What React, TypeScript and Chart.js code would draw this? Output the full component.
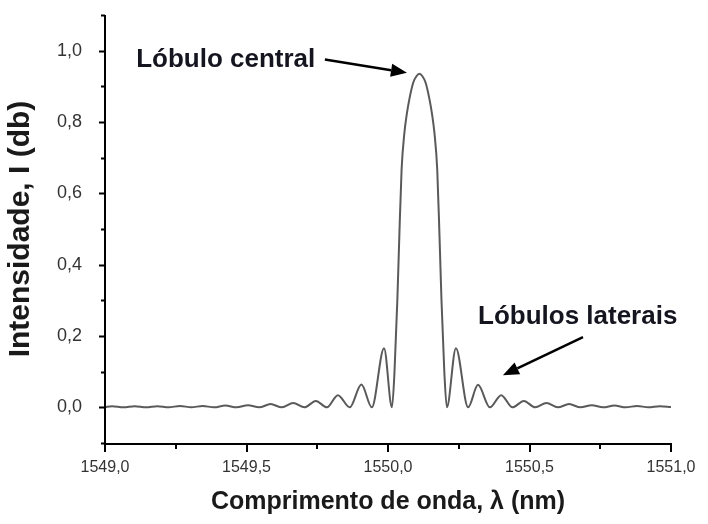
import React, { useEffect, useRef } from "react";
import { Chart, registerables } from "chart.js";

Chart.register(...registerables);

// ---- data ----
const wavelength = [
  1549.0, 1549.025, 1549.065, 1549.105, 1549.145, 1549.185, 1549.225, 1549.265, 1549.305,
  1549.345, 1549.385, 1549.425, 1549.465, 1549.505, 1549.545, 1549.585, 1549.625, 1549.665,
  1549.705, 1549.745, 1549.784, 1549.823, 1549.865, 1549.906, 1549.943, 1549.986, 1550.014,
  1550.023, 1550.033, 1550.04, 1550.048, 1550.058, 1550.066, 1550.075, 1550.089, 1550.101,
  1550.111,
  1550.121, 1550.133, 1550.147, 1550.156, 1550.164, 1550.174, 1550.182, 1550.189, 1550.199,
  1550.208,
  1550.24, 1550.283, 1550.318, 1550.36, 1550.4, 1550.44, 1550.48, 1550.52, 1550.56, 1550.6,
  1550.64, 1550.68, 1550.72, 1550.76, 1550.8, 1550.84, 1550.88, 1550.92, 1550.96, 1551.0,
];
const intensity = [
  0.001, 0.003, 0.0, 0.003, 0.0, 0.003, 0.0, 0.004, 0.0,
  0.004, 0.0, 0.005, 0.0, 0.006, 0.0, 0.009, 0.0, 0.012,
  0.0, 0.018, 0.0, 0.034, 0.0, 0.064, 0.0, 0.166, 0.0,
  0.1, 0.3, 0.48, 0.666, 0.77, 0.82, 0.862, 0.91, 0.929,
  0.935,
  0.929, 0.91, 0.862, 0.82, 0.77, 0.666, 0.48, 0.3, 0.1,
  0.0,
  0.166, 0.0, 0.063, 0.0, 0.034, 0.0, 0.018, 0.0, 0.012, 0.0,
  0.009, 0.0, 0.006, 0.0, 0.005, 0.0, 0.004, 0.0, 0.003, 0.001,
];
const xMajorTicks = [1549.0, 1549.5, 1550.0, 1550.5, 1551.0];
const xMinorTicks = [1549.25, 1549.75, 1550.25, 1550.75];
const yMajorTicks = [0.0, 0.2, 0.4, 0.6, 0.8, 1.0];
const yMinorTicks = [-0.1, 0.1, 0.3, 0.5, 0.7, 0.9, 1.1];
const xTitle = "Comprimento de onda, λ (nm)";
const yTitle = "Intensidade, I (db)";
const labelCentral = "Lóbulo central";
const labelLaterais = "Lóbulos laterais";

const SANS = '"Liberation Sans", Arial, sans-serif';
const fmt = (v: number) => v.toFixed(1).replace(".", ",");

const axesPlugin = {
  id: "axesAndNotes",
  afterDraw(chart: any) {
    const { ctx, chartArea: a, scales } = chart;
    const xs = scales.x;
    const ys = scales.y;
    ctx.save();
    // axis lines
    ctx.strokeStyle = "#000";
    ctx.lineWidth = 2;
    ctx.beginPath();
    ctx.moveTo(a.left, a.top);
    ctx.lineTo(a.left, a.bottom + 1);
    ctx.lineTo(a.right, a.bottom + 1);
    ctx.stroke();
    // tick marks
    ctx.lineWidth = 2;
    ctx.beginPath();
    yMajorTicks.forEach((v) => {
      const p = Math.round(ys.getPixelForValue(v)) + 0.5;
      ctx.moveTo(a.left, p);
      ctx.lineTo(a.left - 6, p);
    });
    yMinorTicks.forEach((v) => {
      const p = Math.round(ys.getPixelForValue(v)) + 0.5;
      ctx.moveTo(a.left, p);
      ctx.lineTo(a.left - 4, p);
    });
    xMajorTicks.forEach((v) => {
      const p = Math.round(xs.getPixelForValue(v));
      ctx.moveTo(p, a.bottom);
      ctx.lineTo(p, a.bottom + 9);
    });
    xMinorTicks.forEach((v) => {
      const p = Math.round(xs.getPixelForValue(v));
      ctx.moveTo(p, a.bottom);
      ctx.lineTo(p, a.bottom + 6);
    });
    ctx.stroke();

    // annotations
    ctx.fillStyle = "#15151f";
    ctx.font = `bold 26px ${SANS}`;
    ctx.textBaseline = "alphabetic";
    ctx.textAlign = "left";
    ctx.fillText(labelCentral, xs.getPixelForValue(1549.11), ys.getPixelForValue(0.955));
    ctx.fillText(labelLaterais, xs.getPixelForValue(1550.318), ys.getPixelForValue(0.233));

    const arrow = (x0: number, y0: number, x1: number, y1: number) => {
      const sx = xs.getPixelForValue(x0), sy = ys.getPixelForValue(y0);
      const tx = xs.getPixelForValue(x1), ty = ys.getPixelForValue(y1);
      const ang = Math.atan2(ty - sy, tx - sx);
      const hl = 16, hw = 6.5;
      const bx = tx - hl * Math.cos(ang), by = ty - hl * Math.sin(ang);
      ctx.strokeStyle = "#000";
      ctx.fillStyle = "#000";
      ctx.lineWidth = 2.5;
      ctx.beginPath();
      ctx.moveTo(sx, sy);
      ctx.lineTo(bx, by);
      ctx.stroke();
      ctx.beginPath();
      ctx.moveTo(tx, ty);
      ctx.lineTo(bx + hw * Math.sin(ang), by - hw * Math.cos(ang));
      ctx.lineTo(bx - hw * Math.sin(ang), by + hw * Math.cos(ang));
      ctx.closePath();
      ctx.fill();
    };
    arrow(1549.777, 0.975, 1550.067, 0.938);
    arrow(1550.689, 0.197, 1550.406, 0.09);
    ctx.restore();
  },
};

export default function App() {
  const ref = useRef<HTMLCanvasElement | null>(null);
  useEffect(() => {
    if (!ref.current) return;
    const chart = new Chart(ref.current, {
      type: "line",
      data: {
        datasets: [
          {
            label: "Intensidade",
            data: wavelength.map((w, i) => ({ x: w, y: intensity[i] })),
            borderColor: "#5a5a5a",
            borderWidth: 2,
            pointRadius: 0,
            fill: false,
            cubicInterpolationMode: "monotone",
          },
        ],
      },
      options: {
        responsive: false,
        animation: false,
        layout: { padding: { left: 0, top: 15, right: 37, bottom: 0 } },
        plugins: { legend: { display: false }, tooltip: { enabled: false } },
        scales: {
          x: {
            type: "linear",
            min: 1549.0,
            max: 1551.0,
            grid: { display: false },
            border: { display: false },
            afterBuildTicks: (s: any) => {
              s.ticks = xMajorTicks.map((v) => ({ value: v }));
            },
            afterFit: (s: any) => {
              s.height = 81;
              s.paddingLeft = 0;
              s.paddingRight = 0;
            },
            ticks: {
              autoSkip: false,
              maxRotation: 0,
              padding: 7,
              color: "#333",
              font: { family: SANS, size: 16 },
              callback: (v: any) => fmt(Number(v)),
            },
            title: {
              display: true,
              text: xTitle,
              color: "#1a1a1a",
              font: { family: SANS, size: 25, weight: "bold" },
              padding: { top: 0, bottom: 7 },
            },
          },
          y: {
            type: "linear",
            min: -0.1,
            max: 1.1,
            grid: { display: false },
            border: { display: false },
            afterBuildTicks: (s: any) => {
              s.ticks = yMajorTicks.map((v) => ({ value: v }));
            },
            afterFit: (s: any) => {
              s.width = 105;
              s.paddingTop = 0;
              s.paddingBottom = 0;
            },
            ticks: {
              autoSkip: false,
              padding: 15,
              color: "#333",
              font: { family: SANS, size: 18 },
              callback: (v: any) => fmt(Number(v)),
            },
            title: {
              display: true,
              text: yTitle,
              color: "#1a1a1a",
              font: { family: SANS, size: 30, weight: "bold" },
              padding: { top: 3, bottom: 0 },
            },
          },
        },
      },
      plugins: [axesPlugin],
    } as any);
    return () => chart.destroy();
  }, []);
  return (
    <div style={{ position: "absolute", left: 0, top: 0, width: 708, height: 524, background: "#fff" }}>
      <canvas ref={ref} width={708} height={524} style={{ display: "block" }} />
    </div>
  );
}
